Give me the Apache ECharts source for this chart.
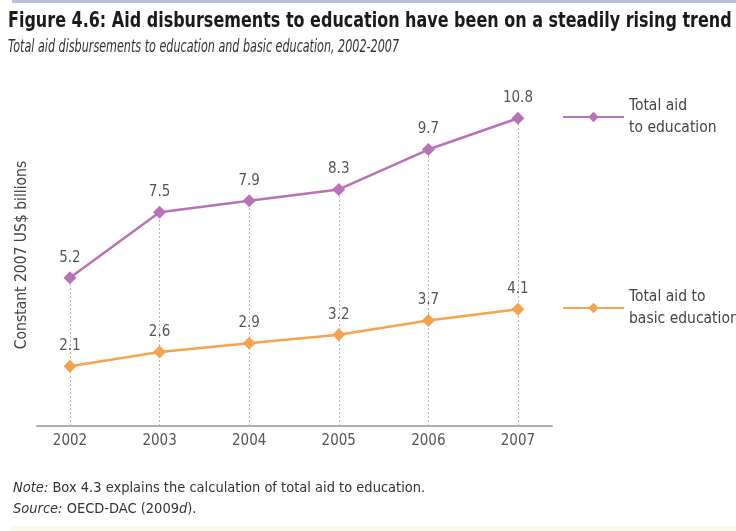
<!DOCTYPE html>
<html>
<head>
<meta charset="utf-8">
<style>
  html, body { margin: 0; padding: 0; background: #ffffff; }
  #chart { width: 736px; height: 531px; }
</style>
<script src="https://cdn.jsdelivr.net/npm/echarts@6/dist/echarts.min.js"></script>
</head>
<body>
<div id="chart"></div>
<script>
// Years and disbursements (constant 2007 US$ billions)
const years = [2002, 2003, 2004, 2005, 2006, 2007];
const totalAidEducation = [5.2, 7.5, 7.9, 8.3, 9.7, 10.8];
const totalAidBasicEducation = [2.1, 2.6, 2.9, 3.2, 3.7, 4.1];

const seriesNames = ['Total aid\nto education', 'Total aid to\nbasic education'];
const titleText = 'Figure 4.6: Aid disbursements to education have been on a steadily rising trend';
const subtitleText = 'Total aid disbursements to education and basic education, 2002-2007';
const yAxisTitle = 'Constant 2007 US$ billions';

const PURPLE = '#b872b6';
const ORANGE = '#f6a24f';
const FONT = '"DejaVu Sans Condensed", "Liberation Sans Narrow", "Liberation Sans", sans-serif';

const pairs = (vals) => years.map((y, i) => [y, vals[i]]);

// Dotted drop lines from the axis up to each upper point
const dropLines = years.map((y, i) => [
  { coord: [y, 0] },
  { coord: [y, totalAidEducation[i]] }
]);

const labelStyle = {
  show: true,
  position: 'top',
  distance: 6,
  color: '#555555',
  fontSize: 15,
  fontFamily: FONT
};

const legendText = { fontFamily: FONT, fontSize: 15.5, color: '#444444', lineHeight: 22 };

const chart = echarts.init(document.getElementById('chart'), null, { renderer: 'canvas' });

chart.setOption({
  animation: false,
  backgroundColor: '#ffffff',
  legend: [
    {
      data: [seriesNames[0]],
      left: 557,
      top: 90,
      itemWidth: 61,
      itemHeight: 13,
      itemGap: 0,
      textStyle: legendText
    },
    {
      data: [seriesNames[1]],
      left: 557,
      top: 281,
      itemWidth: 61,
      itemHeight: 13,
      itemGap: 0,
      textStyle: legendText
    }
  ],
  grid: { left: 37, right: 184, top: 84, bottom: 105, containLabel: false },
  xAxis: {
    type: 'value',
    min: 2001.632,
    max: 2007.38,
    axisLine: { show: true, lineStyle: { color: '#b0b0b0', width: 2 } },
    axisTick: { show: false },
    splitLine: { show: false },
    axisLabel: {
      customValues: years,
      formatter: (v) => String(v),
      color: '#555555',
      fontSize: 15,
      fontFamily: FONT,
      margin: 8
    }
  },
  yAxis: {
    type: 'value',
    min: 0,
    max: 12,
    name: yAxisTitle,
    nameLocation: 'middle',
    nameRotate: 90,
    nameGap: 7,
    nameTextStyle: { fontFamily: FONT, fontSize: 15.5, color: '#444444' },
    axisLine: { show: false },
    axisTick: { show: false },
    axisLabel: { show: false },
    splitLine: { show: false }
  },
  series: [
    {
      name: seriesNames[0],
      type: 'line',
      data: pairs(totalAidEducation),
      symbol: 'diamond',
      symbolSize: 13,
      z: 4,
      lineStyle: { color: PURPLE, width: 2.5 },
      itemStyle: { color: PURPLE },
      label: labelStyle,
      markLine: {
        silent: true,
        symbol: ['none', 'none'],
        label: { show: false },
        lineStyle: { color: '#b8b8b8', type: [2, 2], width: 1 },
        data: dropLines,
        z: 1
      }
    },
    {
      name: seriesNames[1],
      type: 'line',
      data: pairs(totalAidBasicEducation),
      symbol: 'diamond',
      symbolSize: 13,
      z: 4,
      lineStyle: { color: ORANGE, width: 2.5 },
      itemStyle: { color: ORANGE },
      label: labelStyle
    }
  ],
  graphic: [
    {
      type: 'rect',
      shape: { x: 12, y: 0, width: 724, height: 3 },
      style: { fill: '#b9c0de' }
    },
    {
      type: 'rect',
      shape: { x: 10, y: 526, width: 726, height: 5 },
      style: { fill: '#fbf8ec' }
    },
    {
      type: 'text',
      x: 8,
      y: 10,
      scaleX: 0.808,
      style: {
        text: titleText,
        font: 'bold 22px ' + FONT,
        fill: '#1a1a1a'
      }
    },
    {
      type: 'text',
      x: 8,
      y: 38,
      scaleX: 0.69,
      style: {
        text: subtitleText,
        font: 'italic 18px ' + FONT,
        fill: '#333333'
      }
    },
    {
      type: 'text',
      x: 13,
      y: 481,
      style: {
        text: '{i|Note:} Box 4.3 explains the calculation of total aid to education.',
        rich: { i: { fontStyle: 'italic', fontFamily: FONT, fontSize: 14.5, fill: '#333333' } },
        font: '14.5px ' + FONT,
        fill: '#333333'
      }
    },
    {
      type: 'text',
      x: 13,
      y: 502,
      style: {
        text: '{i|Source:} OECD-DAC (2009{i|d}).',
        rich: { i: { fontStyle: 'italic', fontFamily: FONT, fontSize: 14.5, fill: '#333333' } },
        font: '14.5px ' + FONT,
        fill: '#333333'
      }
    }
  ]
});
</script>
</body>
</html>
